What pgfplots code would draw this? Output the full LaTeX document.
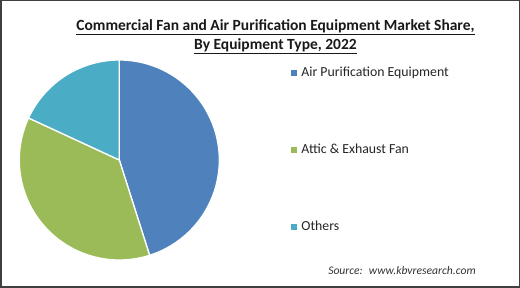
\documentclass[border=0pt]{standalone}
\usepackage{pgfplots}
\pgfplotsset{compat=1.18}
\usepackage{fontspec}
\setmainfont{Carlito}
\definecolor{cA}{HTML}{4F81BD}
\definecolor{cB}{HTML}{9BBB59}
\definecolor{cC}{HTML}{4BACC6}
\definecolor{frame}{HTML}{404040}
% market shares (%)
\pgfmathsetmacro\vA{45.1}
\pgfmathsetmacro\vB{36.8}
\pgfmathsetmacro\vC{18.1}
\pgfmathsetmacro\aA{90}
\pgfmathsetmacro\aB{90-\vA*3.6}
\pgfmathsetmacro\aC{\aB-\vB*3.6}
\pgfmathsetmacro\aD{\aC-\vC*3.6}
\begin{document}
\begin{tikzpicture}
\useasboundingbox (0pt,0pt) rectangle (520pt,288pt);
\fill[white] (0pt,0pt) rectangle (520pt,288pt);
\draw[line width=1.5pt, color=frame] (0.75pt,0.75pt) rectangle (519.25pt,287.25pt);
\node[font=\fontsize{15.5}{18}\selectfont\bfseries, color=black!90] at (275.5pt,261pt) {\underline{Commercial Fan and Air Purification Equipment Market Share,}};
\node[font=\fontsize{15.5}{18}\selectfont\bfseries, color=black!90] at (275.5pt,242pt) {\underline{By Equipment Type, 2022}};
\node[font=\fontsize{11.6}{14}\selectfont\itshape, color=black!80] at (402pt,17pt) {Source:~ www.kbvresearch.com};
\begin{axis}[hide axis, scale only axis, width=200pt, height=200pt,
  xmin=-1, xmax=1, ymin=-1, ymax=1, at={(119.3pt,128pt)}, anchor=center, clip=false,
  legend style={at={(1.343,0.985)}, anchor=north west, draw=none, fill=none,
    font=\fontsize{13.8}{16}\selectfont, text=black!85, row sep=62pt},
  legend cell align=left]
\addplot[fill=cA, draw=white, line width=1.3pt, domain=\aB:\aA, samples=120, variable=\t,
  legend image code/.code={\fill[cA] (1pt,-2.5pt) rectangle (6pt,2.5pt); \path (8pt,0pt);}]
  ({cos(\t)},{sin(\t)}) -- (0,0) -- cycle;
\addlegendentry{Air Purification Equipment}
\addplot[fill=cB, draw=white, line width=1.3pt, domain=\aC:\aB, samples=120, variable=\t,
  legend image code/.code={\fill[cB] (1pt,-2.5pt) rectangle (6pt,2.5pt); \path (8pt,0pt);}]
  ({cos(\t)},{sin(\t)}) -- (0,0) -- cycle;
\addlegendentry{Attic \& Exhaust Fan}
\addplot[fill=cC, draw=white, line width=1.3pt, domain=\aD:\aC, samples=80, variable=\t,
  legend image code/.code={\fill[cC] (1pt,-2.5pt) rectangle (6pt,2.5pt); \path (8pt,0pt);}]
  ({cos(\t)},{sin(\t)}) -- (0,0) -- cycle;
\addlegendentry{Others}
\end{axis}
\end{tikzpicture}
\end{document}
